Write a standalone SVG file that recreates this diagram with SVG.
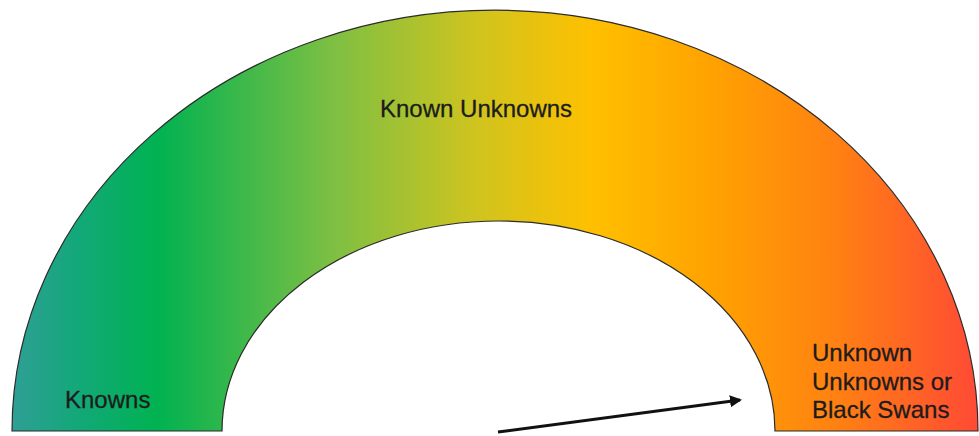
<svg xmlns="http://www.w3.org/2000/svg" width="979" height="436" viewBox="0 0 979 436">
  <defs>
    <linearGradient id="arcGrad" gradientUnits="userSpaceOnUse" x1="12" y1="0" x2="978" y2="0">
      <stop offset="0" stop-color="#2f9f95"/>
      <stop offset="0.07" stop-color="#12a878"/>
      <stop offset="0.15" stop-color="#00b251"/>
      <stop offset="0.33" stop-color="#7cbf43"/>
      <stop offset="0.48" stop-color="#cfc41f"/>
      <stop offset="0.6" stop-color="#ffc000"/>
      <stop offset="0.72" stop-color="#ffa300"/>
      <stop offset="0.85" stop-color="#ff8212"/>
      <stop offset="1" stop-color="#ff4a35"/>
    </linearGradient>
    <marker id="arrowHead" markerWidth="12" markerHeight="12" refX="10" refY="6" orient="auto" markerUnits="userSpaceOnUse">
      <path d="M0,0 L12,6 L0,12 Z" fill="#111"/>
    </marker>
  </defs>
  <style>
    .label { font-family: "Liberation Sans", Arial, sans-serif; font-size: 24px; fill: #1c1c1c; stroke: #1c1c1c; stroke-width: 0.3; }
    .arc { fill: url(#arcGrad); stroke: #2b2b2b; stroke-width: 1.2; }
    .conn { stroke: #111; stroke-width: 3; fill: none; }
  </style>
  <rect width="979" height="436" fill="#ffffff"/>
  <g id="gauge">
    <path class="arc" d="M 12 431 A 483 421 0 0 1 978 431 L 775 431 A 276.5 210 0 0 0 222 431 Z"/>
  </g>
  <g id="known-unknowns">
    <text class="label" x="380" y="117">Known Unknowns</text>
  </g>
  <g id="knowns">
    <text class="label" x="65" y="408" font-size="23">Knowns</text>
  </g>
  <g id="unknown-unknowns">
    <text class="label" x="812" y="361">Unknown</text>
    <text class="label" x="812" y="390">Unknowns or</text>
    <text class="label" x="812" y="418">Black Swans</text>
  </g>
  <g id="connectors">
    <line class="conn" x1="498" y1="432" x2="740" y2="400" marker-end="url(#arrowHead)"/>
  </g>
</svg>
